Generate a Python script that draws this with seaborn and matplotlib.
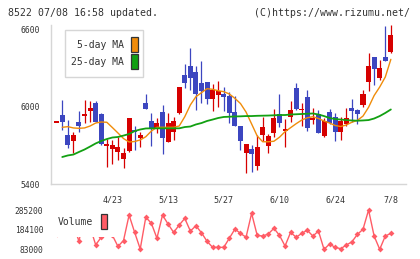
import numpy as np
import matplotlib
matplotlib.use("Agg")
import matplotlib.pyplot as plt
from matplotlib.patches import Rectangle
import seaborn as sns

# daily candles (61 trading days, 4/9 .. 7/8)
opens = [5880, 5934, 5779, 5733, 5880, 5929, 5967, 6025, 5942, 5697,
         5669, 5645, 5591, 5658, 5818, 5754, 6025, 5888, 5826, 5957,
         5727, 5805, 5952, 6244, 6314, 6264, 6180, 6188, 6056, 6089,
         6097, 6081, 5955, 5849, 5642, 5671, 5539, 5779, 5697, 5797,
         5942, 5814, 5916, 6141, 5976, 6072, 5898, 5942, 5774, 5955,
         5916, 5805, 5865, 5992, 5973, 6012, 6192, 6381, 6223, 6381, 6420]
highs = [5880, 6050, 5895, 5805, 5965, 6050, 6043, 6043, 5950, 5748,
         5741, 5766, 5681, 5913, 5849, 5805, 6097, 5947, 5909, 6012,
         5947, 5916, 6151, 6329, 6451, 6314, 6352, 6192, 6174, 6200,
         6149, 6115, 6081, 5849, 5710, 5702, 5779, 5916, 5787, 5978,
         6097, 5901, 6043, 6184, 6025, 6128, 5986, 5973, 5913, 5981,
         5947, 5916, 5986, 6056, 5978, 6128, 6417, 6381, 6360, 6623, 6631]
lows = [5880, 5818, 5676, 5642, 5805, 5870, 5882, 5878, 5702, 5534,
        5555, 5586, 5522, 5650, 5663, 5684, 5981, 5694, 5797, 5632,
        5727, 5741, 5942, 6141, 6128, 5973, 6025, 6019, 5967, 5994,
        5967, 5870, 5851, 5663, 5487, 5495, 5508, 5735, 5642, 5766,
        5844, 5684, 5882, 5973, 5851, 5813, 5865, 5797, 5766, 5865,
        5735, 5741, 5849, 5882, 5865, 5998, 6122, 6166, 6205, 6355, 6412]
closes = [5880, 5878, 5702, 5779, 5851, 5937, 5986, 5880, 5710, 5710,
          5702, 5689, 5642, 5913, 5800, 5779, 5981, 5823, 5870, 5758,
          5870, 5888, 6149, 6180, 6218, 6094, 6122, 6056, 6128, 6120,
          6076, 5952, 5851, 5735, 5710, 5630, 5684, 5839, 5772, 5909,
          5875, 5820, 5973, 5978, 5981, 5831, 5905, 5797, 5888, 5870,
          5805, 5888, 5909, 5967, 5942, 6097, 6314, 6290, 6296, 6355, 6553]

ma5 = [np.nan, 5839, 5844, 5834, 5831, 5834, 5849, 5872, 5880, 5878,
       5837, 5795, 5752, 5725, 5729, 5741, 5766, 5810, 5839, 5839,
       5839, 5839, 5849, 5921, 6012, 6076, 6107, 6138, 6133, 6122,
       6115, 6097, 6063, 6023, 5957, 5865, 5772, 5727, 5727, 5731,
       5762, 5805, 5836, 5867, 5895, 5913, 5921, 5907, 5888, 5872,
       5853, 5845, 5857, 5878, 5893, 5926, 5994, 6085, 6151, 6228, 6365]
ma25 = [np.nan, 5609, 5621, 5628, 5648, 5667, 5690, 5714, 5733, 5748,
        5760, 5764, 5775, 5787, 5810, 5822, 5830, 5831, 5831, 5831,
        5831, 5831, 5831, 5841, 5845, 5861, 5872, 5888, 5899, 5911,
        5919, 5921, 5923, 5924, 5926, 5926, 5928, 5929, 5930, 5932,
        5934, 5934, 5938, 5940, 5942, 5944, 5946, 5938, 5926, 5911,
        5903, 5899, 5895, 5892, 5890, 5892, 5895, 5907, 5926, 5950, 5977]

volumes = [160000, 190000, 175000, 210000, 124000, 265000, 198000, 106000, 145000, 200000,
           155000, 98000, 128000, 259000, 170000, 84500, 248000, 217000, 140000, 259000,
           213000, 170000, 208000, 242000, 177000, 204000, 168000, 124000, 93000, 93000,
           93000, 140000, 187000, 165000, 145000, 268000, 155000, 151000, 162000, 191000,
           155000, 100000, 170000, 145000, 165000, 181000, 151000, 177000, 83000, 110000,
           93000, 86000, 105000, 121000, 160000, 186000, 285200, 151000, 83000, 151000, 165000]

date_pos = [10, 20, 30, 40, 50, 60]
date_labels = ["4/23", "5/13", "5/27", "6/10", "6/24", "7/8"]
price_ticks = [5400, 6000, 6600]
vol_ticks = [83000, 184100, 285200]

RED = "#d60000"
BLUE = "#3c46c0"
ORANGE = "#f08c0a"
GREEN = "#12a012"
VOLC = "#ff5c66"
GRID = "#d6d6d6"
TXT = "#333333"
MONO = "DejaVu Sans Mono"

sns.set_style("white")
plt.rcParams["font.family"] = [MONO, "DejaVu Sans"]

W, H = 420, 259
fig = plt.figure(figsize=(W / 100, H / 100), dpi=100)


def rect(x0, y0, x1, y1):
    return [x0 / W, 1 - y1 / H, (x1 - x0) / W, (y1 - y0) / H]


ax = fig.add_axes(rect(51, 25, 406, 184))
axv = fig.add_axes(rect(51, 203, 406, 254))

o = np.array(opens, float)
c = np.array(closes, float)
idx = np.arange(len(c))
cols = np.where(c >= o, RED, BLUE)

# wicks + bodies
ax.vlines(idx, lows, highs, colors=cols, lw=0.9, zorder=2)
diff = np.abs(c - o)
hgt = np.maximum(diff, 12)
bot = np.minimum(o, c) - (hgt - diff) / 2
ax.bar(idx, hgt, bottom=bot, width=0.9, color=cols, linewidth=0, zorder=3)

sns.lineplot(x=idx, y=ma5, ax=ax, color=ORANGE, lw=1.0, zorder=4)
sns.lineplot(x=idx, y=ma25, ax=ax, color=GREEN, lw=1.3, zorder=4)

xl = (-1.02, 62.72)
ax.set_xlim(*xl)
ax.set_ylim(5400, 6631)
ax.set_xticks(np.linspace(xl[0], xl[1], 12))
ax.set_xticklabels([])
ax.set_xticks(date_pos, minor=True)
ax.set_xticklabels(date_labels, minor=True)
ax.set_yticks(price_ticks)
ax.set_yticklabels([str(t) for t in price_ticks])
ax.tick_params(axis="x", which="major", direction="inout", length=6, width=1, color=GRID)
ax.tick_params(axis="x", which="minor", length=0, pad=8, labelsize=6, labelcolor=TXT)
ax.tick_params(axis="y", direction="inout", length=5.5, width=1, color=GRID,
               pad=5.5, labelsize=5.8, labelcolor=TXT)
ax.set_xlabel("")
ax.set_ylabel("")
for s in ["top", "right"]:
    ax.spines[s].set_visible(False)
for s in ["left", "bottom"]:
    ax.spines[s].set_color(GRID)
    ax.spines[s].set_linewidth(1)

# legend box (main)
fig.add_artist(Rectangle((65 / W, 1 - 77 / H), 78 / W, 47 / H, transform=fig.transFigure,
                         facecolor="white", edgecolor=GRID, lw=1, zorder=5))
fig.text(124 / W, 1 - 45.5 / H, "5-day MA", ha="right", va="center", fontsize=7,
         color=TXT, zorder=6)
fig.text(124 / W, 1 - 62 / H, "25-day MA", ha="right", va="center", fontsize=7,
         color=TXT, zorder=6)
fig.add_artist(Rectangle((131 / W, 1 - 52.3 / H), 6.5 / W, 15 / H, transform=fig.transFigure,
                         facecolor=ORANGE, edgecolor="#333333", lw=0.9, zorder=6))
fig.add_artist(Rectangle((131 / W, 1 - 69.3 / H), 6.5 / W, 15 / H, transform=fig.transFigure,
                         facecolor=GREEN, edgecolor="#333333", lw=0.9, zorder=6))

# volume
sns.lineplot(x=idx, y=volumes, ax=axv, color=VOLC, lw=1.0, marker="D",
             markersize=3, markeredgewidth=0, markerfacecolor=VOLC)
axv.set_xlim(*xl)
axv.set_ylim(58818, 321216)
axv.set_xticks([])
axv.set_yticks(vol_ticks)
axv.set_yticklabels([str(t) for t in vol_ticks])
axv.tick_params(axis="y", length=0, pad=5.5, labelsize=5.7, labelcolor=TXT)
axv.set_xlabel("")
axv.set_ylabel("")
for s in axv.spines.values():
    s.set_visible(False)

fig.add_artist(Rectangle((51 / W, 1 - 236.5 / H), 67 / W, 33.5 / H, transform=fig.transFigure,
                         facecolor="white", edgecolor="none", zorder=5))
fig.text(58 / W, 1 - 222 / H, "Volume", ha="left", va="center", fontsize=7,
         color=TXT, zorder=6)
fig.add_artist(Rectangle((100.7 / W, 1 - 229 / H), 6.5 / W, 15.3 / H, transform=fig.transFigure,
                         facecolor=VOLC, edgecolor="#333333", lw=0.9, zorder=6))

fig.text(8 / W, 1 - 12.5 / H, "8522 07/08 16:58 updated.", ha="left", va="center",
         fontsize=7.1, color=TXT)
fig.text(410 / W, 1 - 12.5 / H, "(C)https://www.rizumu.net/", ha="right", va="center",
         fontsize=7.1, color=TXT)

fig.savefig("out.png", dpi=100)
